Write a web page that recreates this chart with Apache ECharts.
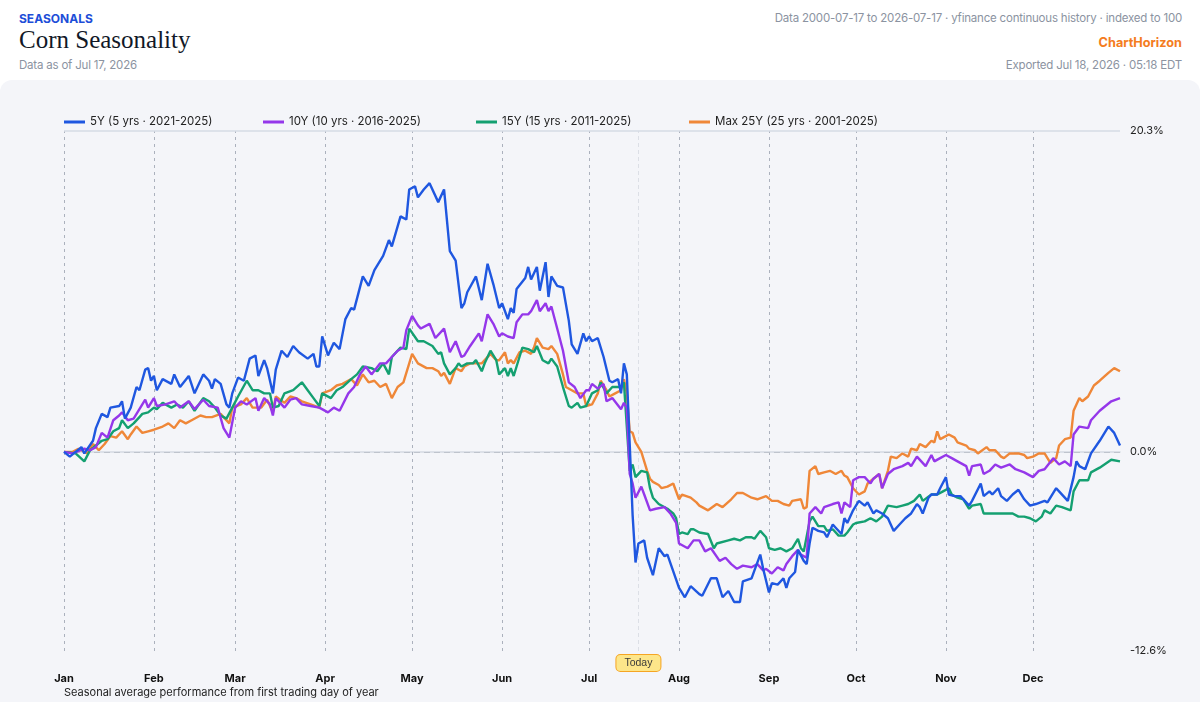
<!DOCTYPE html>
<html>
<head>
<meta charset="utf-8">
<script src="https://cdn.jsdelivr.net/npm/echarts@6/dist/echarts.min.js"></script>
<style>
    body { margin: 0; background: #fff; font-family: Inter, "Noto Sans", sans-serif; }
    .hd { position: absolute; white-space: nowrap; }
    .sm { font-size: 11.5px; letter-spacing: -0.2px; color: #8b93a1; }
    #panel { position: absolute; left: 0; top: 80px; width: 1200px; height: 640px; background: #f4f5f9; border-radius: 12px; }
    #chart { position: absolute; left: 0; top: 80px; width: 1200px; height: 622px; }
</style>
</head>
<body>
<div class="hd" style="left:19px;top:11px;font-size:12px;font-weight:700;color:#1d4ed8;">SEASONALS</div>
<div class="hd" style="left:19px;top:26px;font-size:25px;font-family:'Liberation Serif',serif;color:#111827;">Corn Seasonality</div>
<div class="hd sm" style="left:19px;top:58px;">Data as of Jul 17, 2026</div>
<div class="hd sm" style="right:18px;top:11px;">Data 2000-07-17 to 2026-07-17 · yfinance continuous history · indexed to 100</div>
<div class="hd" style="right:18px;top:35px;font-size:12.7px;font-weight:700;color:#f47c20;">ChartHorizon</div>
<div class="hd sm" style="right:18px;top:58px;">Exported Jul 18, 2026 · 05:18 EDT</div>
<div id="panel"></div>
<div id="chart"></div>

<script>
    // day of year (0 = Jan 1) , average % change
    var monthStarts = [0, 31, 59, 90, 120, 151, 181, 212, 243, 273, 304, 334];
    var monthNames = ['Jan', 'Feb', 'Mar', 'Apr', 'May', 'Jun', 'Jul', 'Aug', 'Sep', 'Oct', 'Nov', 'Dec'];
    var yTicks = [-12.6, 0, 20.3];
    var todayDay = 198;
    var seriesNames = ['5Y (5 yrs · 2021-2025)', '10Y (10 yrs · 2016-2025)', '15Y (15 yrs · 2011-2025)', 'Max 25Y (25 yrs · 2001-2025)'];
    var colors = ['#1f57e0', '#9537ea', '#14a071', '#ef8738'];

    var y5 = [[0,0],[2,-0.3],[6,0.3],[7,-0.1],[10,0.7],[11,1.5],[13,2.4],[15,2.2],[16,2.8],[19,2.9],[20,3.2],[21,2.1],[23,2.8],[25,4.1],[26,3.9],[28,5.2],[29,5.3],[30,4.5],[31,4.8],[32,3.9],[34,4.6],[37,4.3],[38,4.9],[40,4.1],[43,4.8],[45,3.7],[48,4.9],[50,4.5],[51,4.0],[52,4.6],[54,4.3],[56,3.0],[57,2.8],[58,3.7],[60,4.7],[62,4.5],[64,5.9],[66,6.1],[67,4.8],[69,5.8],[70,5.3],[72,3.7],[73,5.2],[75,6.4],[77,6.0],[79,6.7],[81,6.3],[84,5.9],[86,6.2],[87,5.4],[88,5.4],[89,7.3],[91,6.1],[93,6.9],[95,6.5],[97,8.4],[99,9.1],[100,9.0],[103,11.1],[105,10.5],[107,11.5],[110,12.4],[112,13.4],[113,13.0],[116,14.9],[118,14.7],[119,16.6],[121,16.8],[122,16.1],[124,16.6],[126,17.0],[129,15.8],[131,16.6],[133,12.7],[135,12.1],[137,9.1],[138,9.4],[139,10.1],[142,11.1],[144,9.6],[146,11.9],[148,10.6],[150,9.1],[151,9.4],[153,8.4],[154,9.1],[155,8.8],[156,10.3],[159,11.0],[160,11.7],[161,10.9],[163,11.7],[164,10.2],[166,12.0],[167,9.8],[168,11.1],[170,10.5],[172,10.4],[174,8.3],[175,6.8],[177,6.2],[179,7.5],[180,7.0],[181,7.3],[182,7.0],[184,7.2],[186,6.0],[188,4.5],[189,4.4],[191,4.6],[192,3.7],[193,5.6],[194,4.9],[195,0.5],[196,-4.0],[197,-7.0],[198,-5.8],[200,-5.6],[201,-6.7],[203,-7.8],[205,-6.1],[207,-6.6],[208,-6.5],[212,-8.6],[214,-9.2],[216,-8.5],[219,-9.0],[220,-9.1],[223,-8.0],[225,-8.0],[227,-9.2],[229,-8.8],[231,-9.5],[233,-9.5],[234,-8.2],[237,-8.0],[238,-7.5],[240,-6.5],[241,-7.4],[243,-8.9],[244,-8.3],[246,-8.4],[248,-8.0],[249,-8.6],[250,-8.0],[252,-7.6],[253,-6.2],[255,-6.9],[256,-7.1],[257,-5.8],[258,-4.8],[260,-5.0],[262,-5.1],[263,-5.4],[265,-4.6],[266,-4.8],[268,-5.2],[269,-4.2],[270,-4.5],[272,-3.7],[274,-3.1],[276,-3.4],[277,-3.2],[279,-3.9],[280,-3.7],[282,-3.9],[284,-4.2],[286,-5.0],[288,-4.6],[290,-4.2],[292,-3.9],[294,-3.3],[295,-3.5],[296,-3.9],[298,-2.9],[299,-2.7],[301,-2.7],[302,-2.3],[304,-1.6],[305,-2.7],[307,-2.8],[309,-2.8],[312,-3.4],[313,-3.1],[316,-2.0],[317,-2.8],[319,-2.5],[320,-2.7],[322,-2.3],[323,-2.8],[325,-3.1],[327,-2.7],[329,-2.4],[331,-3.0],[333,-3.4],[335,-3.3],[338,-3.1],[339,-3.2],[342,-2.3],[343,-2.5],[346,-3.1],[348,-1.6],[349,-0.6],[350,-0.9],[352,-1.1],[354,-0.1],[357,0.7],[360,1.6],[362,1.2],[364,0.4]];

    var y10 = [[0,0],[3,-0.1],[7,0.2],[9,0.1],[11,0.3],[13,1.2],[15,0.9],[17,2.0],[19,2.3],[20,2.5],[22,2.0],[24,2.1],[26,2.7],[28,3.3],[29,2.8],[31,3.4],[32,2.9],[35,3.0],[38,3.2],[40,2.8],[43,3.2],[45,2.7],[48,3.3],[50,2.9],[53,2.8],[55,1.5],[56,1.2],[57,0.9],[59,2.8],[61,3.2],[63,3.0],[66,3.4],[67,2.6],[69,3.4],[71,3.0],[72,2.3],[73,3.4],[76,2.8],[78,3.3],[80,3.4],[82,3.0],[85,2.9],[88,2.8],[91,2.5],[93,2.8],[95,2.6],[98,3.7],[100,4.1],[102,4.9],[104,5.4],[106,4.9],[109,5.6],[111,5.6],[113,6.0],[115,6.4],[117,6.6],[118,7.7],[120,8.6],[122,8.0],[123,7.8],[126,8.1],[128,7.2],[131,7.8],[133,6.3],[135,7.0],[137,6.0],[138,6.1],[140,6.7],[143,7.5],[144,7.0],[146,8.7],[148,8.1],[150,7.3],[151,7.5],[153,7.3],[155,7.2],[156,8.2],[158,8.7],[160,8.7],[161,8.9],[163,9.6],[164,8.9],[166,9.4],[167,8.9],[168,9.2],[170,7.8],[172,6.4],[174,4.4],[176,4.1],[178,3.4],[180,3.9],[181,3.9],[182,4.3],[184,4.0],[186,4.3],[187,3.2],[189,3.4],[192,2.7],[193,3.1],[194,2.8],[195,-1.4],[196,-2.0],[197,-2.9],[199,-2.2],[200,-2.7],[202,-3.7],[204,-3.6],[207,-3.5],[209,-3.9],[211,-4.5],[212,-5.8],[215,-6.1],[217,-5.6],[219,-5.6],[221,-6.3],[223,-6.1],[226,-6.9],[228,-6.7],[230,-7.1],[232,-7.4],[234,-7.2],[237,-7.3],[239,-7.1],[241,-7.5],[242,-7.4],[244,-7.7],[246,-7.3],[248,-7.5],[249,-7.1],[251,-6.6],[253,-6.2],[254,-6.5],[256,-6.7],[257,-3.9],[259,-3.5],[261,-3.9],[262,-3.5],[265,-3.3],[267,-3.2],[268,-3.9],[269,-3.2],[271,-3.5],[272,-1.8],[274,-1.6],[276,-1.6],[278,-2.0],[279,-1.7],[281,-1.4],[282,-2.3],[284,-1.4],[286,-1.1],[289,-0.9],[291,-0.7],[292,-0.9],[294,-0.3],[297,-0.9],[299,-0.2],[300,-0.6],[302,-0.4],[304,-0.2],[306,-0.4],[308,-0.6],[311,-0.9],[312,-1.5],[313,-0.9],[316,-0.8],[317,-1.4],[319,-1.2],[321,-0.8],[323,-1.0],[326,-0.8],[328,-1.1],[331,-1.3],[334,-1.6],[336,-1.2],[338,-1.1],[341,-0.4],[343,-0.8],[345,-0.6],[347,-0.9],[348,1.1],[350,1.6],[353,1.5],[354,2.0],[357,2.6],[361,3.2],[364,3.4]];

    var y15 = [[0,0],[4,-0.1],[7,-0.6],[9,0.1],[11,0.4],[13,0.7],[15,0.8],[17,1.3],[19,1.5],[20,2.0],[22,1.5],[24,1.8],[26,2.2],[27,2.4],[29,2.5],[31,2.8],[32,2.7],[34,3.1],[37,2.8],[39,3.0],[41,2.8],[43,3.2],[45,2.6],[48,3.4],[50,3.2],[52,2.8],[54,2.3],[56,2.1],[58,2.8],[60,3.5],[63,4.5],[65,3.9],[67,3.9],[69,3.7],[71,3.7],[72,2.8],[74,2.9],[76,3.7],[79,3.9],[82,4.4],[84,3.9],[86,3.4],[88,2.9],[89,3.7],[92,3.4],[94,3.9],[96,4.1],[99,4.6],[101,4.9],[103,5.4],[106,5.3],[108,5.1],[110,5.6],[112,4.9],[113,6.0],[116,6.6],[118,6.5],[119,7.8],[122,7.0],[124,7.0],[127,6.7],[129,6.2],[130,6.3],[131,5.6],[133,4.9],[135,5.3],[136,5.6],[137,5.4],[139,5.6],[141,5.6],[142,5.8],[144,5.1],[145,5.6],[147,6.4],[149,5.8],[150,4.9],[152,5.3],[153,4.8],[154,5.3],[155,4.8],[157,6.0],[158,6.6],[160,6.5],[162,6.3],[163,6.7],[165,5.8],[167,5.6],[168,5.9],[170,5.4],[172,4.1],[174,2.9],[175,2.8],[177,3.1],[178,2.8],[180,2.9],[182,3.7],[184,3.9],[185,4.4],[187,3.7],[189,4.1],[192,4.1],[193,4.4],[195,-1.2],[196,-0.8],[197,-1.6],[199,-1.2],[201,-1.3],[202,-2.3],[203,-2.9],[205,-3.3],[208,-3.6],[210,-3.9],[211,-4.2],[212,-5.2],[213,-5.1],[215,-5.2],[216,-4.9],[217,-4.9],[219,-5.1],[222,-5.2],[224,-6.1],[225,-5.8],[229,-5.6],[231,-5.5],[233,-5.6],[235,-5.4],[237,-5.4],[238,-5.5],[240,-5.0],[242,-5.4],[243,-6.1],[245,-6.2],[247,-6.1],[249,-6.3],[251,-6.1],[253,-5.5],[254,-6.1],[255,-6.3],[257,-4.4],[258,-4.1],[260,-4.7],[262,-4.7],[263,-5.0],[265,-4.9],[267,-5.3],[269,-5.3],[270,-5.1],[272,-4.6],[273,-4.5],[276,-4.4],[278,-4.2],[280,-4.4],[282,-4.1],[284,-3.4],[287,-3.5],[289,-3.4],[291,-3.3],[293,-3.1],[295,-2.7],[296,-3.1],[299,-2.7],[301,-2.7],[303,-2.5],[305,-2.3],[306,-2.7],[308,-2.9],[310,-3.0],[312,-3.6],[313,-3.4],[316,-3.3],[317,-3.9],[319,-3.9],[322,-3.9],[324,-3.9],[327,-3.9],[329,-4.1],[331,-4.1],[333,-4.2],[335,-4.4],[337,-4.1],[338,-3.7],[340,-3.9],[342,-3.4],[344,-3.5],[347,-3.7],[348,-2.5],[350,-1.8],[353,-1.8],[354,-1.3],[357,-1.0],[361,-0.5],[364,-0.6]];

    var y25 = [[0,0],[3,0],[5,0.2],[8,-0.1],[10,0.5],[12,0.1],[14,0.5],[16,1.0],[18,0.9],[20,1.3],[22,0.8],[23,1.1],[25,1.6],[27,1.2],[29,1.3],[31,1.4],[34,1.6],[36,1.8],[38,1.5],[40,2.0],[42,1.8],[44,2.0],[47,2.3],[49,2.2],[51,2.2],[54,2.4],[55,2.2],[57,1.8],[58,2.8],[61,3.0],[63,3.4],[65,2.8],[68,2.8],[70,3.3],[72,2.5],[73,3.5],[76,3.1],[78,3.5],[80,3.4],[82,3.2],[85,3.0],[88,2.8],[89,3.7],[92,3.9],[94,4.2],[96,4.3],[99,4.6],[101,4.2],[103,4.9],[105,4.4],[107,4.5],[109,4.1],[111,4.3],[113,3.4],[115,4.1],[117,4.4],[119,5.6],[120,6.2],[122,5.6],[125,5.3],[127,5.3],[129,5.1],[130,4.8],[131,5.0],[133,4.3],[135,5.3],[137,5.1],[138,5.4],[140,5.6],[142,5.6],[144,5.6],[147,6.2],[149,5.8],[150,5.8],[152,6.3],[153,5.6],[154,5.8],[155,5.6],[157,6.3],[159,6.4],[161,6.2],[162,6.6],[163,7.2],[165,6.6],[167,6.5],[168,6.7],[170,6.2],[172,4.9],[173,4.1],[175,3.9],[177,3.7],[179,3.7],[180,2.9],[182,3.0],[184,3.7],[185,4.5],[187,3.9],[188,3.5],[190,3.7],[192,3.9],[193,4.6],[194,3.7],[195,1.3],[196,1.2],[197,0.6],[199,0.0],[201,-1.2],[202,-1.7],[203,-1.9],[205,-2.1],[206,-2.3],[208,-2.2],[210,-2.0],[212,-3.0],[213,-2.7],[216,-2.9],[218,-3.2],[219,-3.4],[222,-3.7],[225,-3.3],[227,-3.5],[230,-3.0],[232,-2.6],[234,-2.6],[237,-2.9],[239,-3.0],[242,-2.8],[244,-3.1],[246,-3.1],[248,-3.3],[250,-3.4],[251,-3.1],[254,-3.0],[255,-3.6],[256,-3.5],[257,-1.2],[259,-0.9],[260,-1.4],[262,-1.3],[264,-1.2],[266,-1.4],[268,-1.2],[269,-1.5],[270,-1.6],[272,-2.3],[274,-2.7],[276,-2.5],[277,-2.0],[279,-1.7],[281,-1.4],[282,-2.3],[284,-1.2],[285,-0.3],[287,-0.4],[289,-0.1],[291,-0.3],[292,0.2],[294,0.1],[295,0.5],[297,0.3],[299,0.7],[300,0.6],[301,1.3],[302,0.8],[303,0.9],[305,1.1],[307,0.9],[308,0.6],[311,0.4],[312,0.2],[314,0.1],[315,-0.1],[318,0.3],[319,0.1],[321,0.1],[323,-0.3],[324,-0.4],[326,-0.1],[329,-0.1],[331,-0.2],[332,-0.4],[334,-0.3],[336,-0.1],[338,-0.1],[340,-0.7],[342,-0.4],[343,0.4],[345,0.8],[347,0.9],[348,2.6],[350,3.4],[351,3.2],[353,3.5],[355,4.2],[357,4.5],[360,5.0],[362,5.3],[364,5.1]];

    var allData = [y5, y10, y15, y25];

    var chart = echarts.init(document.getElementById('chart'));

    var vLines = monthStarts.map(function (d) {
        return {xAxis: d, lineStyle: {color: '#abb1bd', type: [3, 4], width: 1}};
    });
    vLines.push({xAxis: todayDay, lineStyle: {color: '#dcdfe6', type: [4, 3], width: 1},
        label: {show: true, position: 'start', formatter: 'Today', distance: 4,
            fontSize: 10.5, color: '#3a3a3a', backgroundColor: '#fde68a',
            borderColor: '#f5a524', borderWidth: 1, borderRadius: 4, padding: [3, 8, 2, 8]}});
    vLines.push({yAxis: 0, lineStyle: {color: '#bfc4cd', type: [6, 4], width: 1}});
    vLines.push({yAxis: 20.3, lineStyle: {color: '#d6dbe4', type: 'solid', width: 1.5}});

    var series = seriesNames.map(function (name, i) {
        var s = {
            name: name,
            type: 'line',
            data: allData[i],
            showSymbol: false,
            symbol: 'none',
            lineStyle: {width: 2.4, color: colors[i]},
            itemStyle: {color: colors[i]},
            z: 10 - i
        };
        if (i === 0) {
            s.markLine = {silent: true, symbol: ['none', 'none'], label: {show: false}, data: vLines, z: 1};
        }
        return s;
    });

    var legendLeft = [64, 263, 476, 689];
    var legends = seriesNames.map(function (name, i) {
        return {
            data: [name], left: legendLeft[i], top: 36, padding: 0,
            icon: 'rect', itemWidth: 21, itemHeight: 3, itemGap: 7,
            textStyle: {fontSize: 11.5, color: '#222', fontFamily: 'Inter'}
        };
    });

    myOption = {
        animation: false,
        color: colors,
        title: [{
            text: 'Seasonal average performance from first trading day of year',
            left: 64, top: 607, padding: 0,
            textStyle: {fontSize: 11, fontWeight: 'normal', color: '#222', fontFamily: 'Inter'}
        }],
        legend: legends,
        grid: {left: 64, right: 80, top: 51, bottom: 51},
        xAxis: {
            type: 'value', min: 0, max: 364,
            axisLine: {lineStyle: {color: '#d3d9e2', width: 1.5}},
            axisTick: {show: false},
            splitLine: {show: false},
            axisLabel: {
                customValues: monthStarts,
                formatter: function (v) { return monthNames[monthStarts.indexOf(v)]; },
                margin: 22, fontSize: 11, fontWeight: 'bold', color: '#111', fontFamily: 'Inter'
            }
        },
        yAxis: {
            type: 'value', position: 'right', min: -12.6, max: 20.3,
            axisLine: {show: false},
            axisTick: {show: false},
            splitLine: {show: false},
            axisLabel: {
                customValues: yTicks,
                formatter: function (v) { return v.toFixed(1) + '%'; },
                margin: 10, fontSize: 11, color: '#222', fontFamily: 'Inter'
            }
        },
        series: series
    };
    chart.setOption(myOption);
</script>
</body>
</html>
